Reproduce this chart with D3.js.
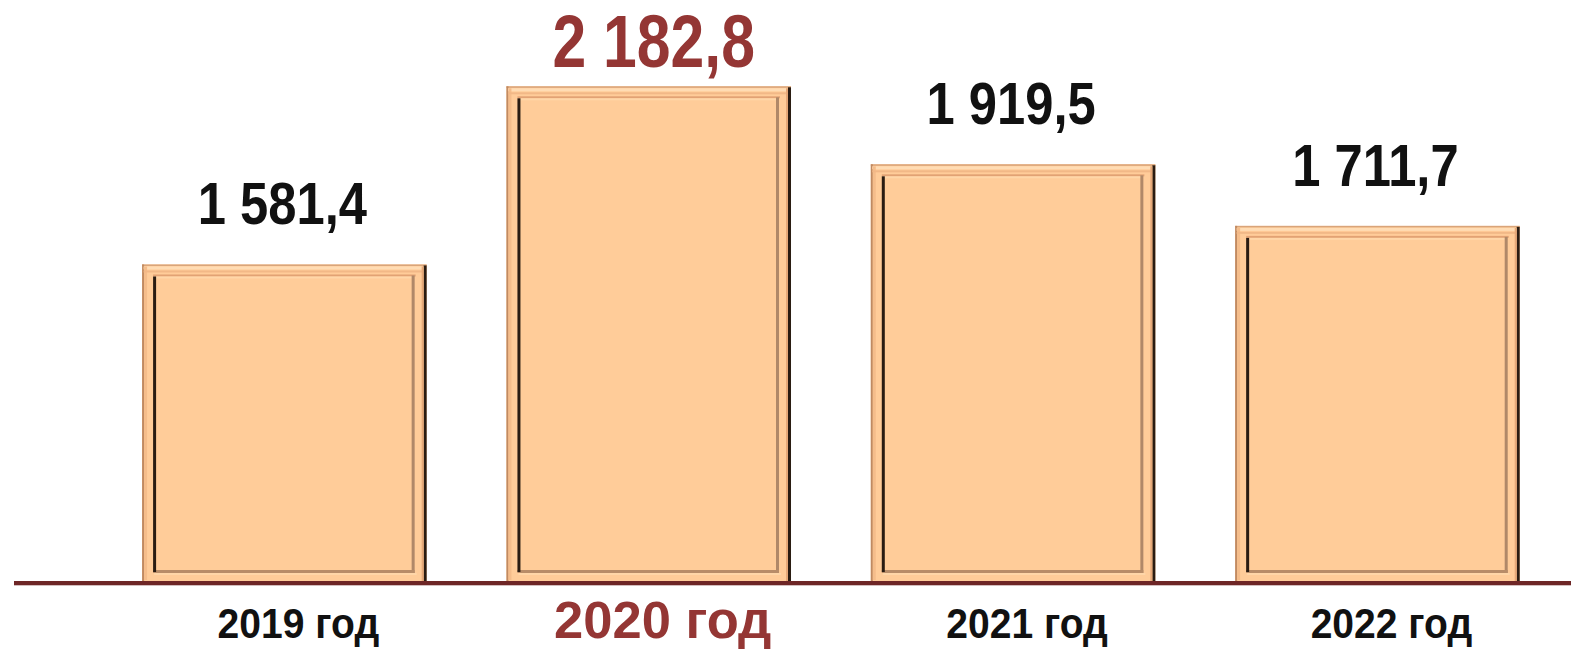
<!DOCTYPE html>
<html>
<head>
<meta charset="utf-8">
<script src="https://cdn.jsdelivr.net/npm/d3@7"></script>
<style>
  html, body { margin: 0; padding: 0; background: #ffffff; }
  svg { display: block; }
  text { font-family: "Liberation Sans", Arial, sans-serif; font-weight: bold; }
</style>
</head>
<body>
<svg id="chart" width="1571" height="651"></svg>
<script>
const categories = ["2019 год", "2020 год", "2021 год", "2022 год"];
const values = [1581.4, 2182.8, 1919.5, 1711.7];
const valueLabels = ["1 581,4", "2 182,8", "1 919,5", "1 711,7"];
const highlighted = "2020 год";

const W = 1571, H = 651;
const baseY = 581;
const svg = d3.select("#chart");

const x = d3.scaleBand().domain(categories).range([102.2, 1559.6]).paddingInner(0.219).paddingOuter(0.1095);
const y = d3.scaleLinear().domain([513, 2182.8]).range([baseY, baseY - 494.7]);

const RED = "#943634";
const DARK = "#2a1c12";

const g = svg.append("g");
const bars = g.selectAll("g.bar").data(categories).join("g").attr("class", "bar");

bars.each(function(c, i) {
  const sel = d3.select(this);
  const x0 = x(c), w = x.bandwidth();
  const y0 = y(values[i]), h = baseY - y0;
  const inset = 11;
  sel.append("rect").attr("x", x0).attr("y", y0).attr("width", w).attr("height", h).attr("fill", "#FFCC99");
  sel.append("rect").attr("x", x0).attr("y", y0).attr("width", w).attr("height", 1.5).attr("fill", "#d9a47a");
  sel.append("rect").attr("x", x0).attr("y", y0).attr("width", 2).attr("height", h).attr("fill", "#c08a62");
  sel.append("rect").attr("x", x0 + 1.5).attr("y", y0 + 2).attr("width", w - 4).attr("height", 3).attr("fill", "#ffdcb4");
  sel.append("rect").attr("x", x0 + 2).attr("y", y0 + 2).attr("width", 3).attr("height", h - 3).attr("fill", "#f5bd8b");
  sel.append("rect").attr("x", x0 + 1.5).attr("y", y0 + 6).attr("width", w - 6).attr("height", 2).attr("fill", "#f2b887");
  sel.append("rect").attr("x", x0 + w - 3).attr("y", y0 + 1).attr("width", 3).attr("height", h - 1).attr("fill", DARK);
  sel.append("rect").attr("x", x0 + w - 5).attr("y", y0 + 2).attr("width", 2).attr("height", h - 2).attr("fill", "#e6a878");
  const ix = x0 + inset, iy = y0 + inset, iw = w - 2 * inset, ih = h - 2 * inset + 3;
  sel.append("rect").attr("x", ix).attr("y", iy - 1).attr("width", iw).attr("height", 2).attr("fill", "#e2a274");
  sel.append("rect").attr("x", ix).attr("y", iy + 1).attr("width", iw - 3).attr("height", 2).attr("fill", "#ffd6a8");
  sel.append("rect").attr("x", ix + iw - 4).attr("y", iy).attr("width", 3).attr("height", ih).attr("fill", "#b08868");
  sel.append("rect").attr("x", ix).attr("y", iy + ih - 3).attr("width", iw - 1).attr("height", 3).attr("fill", "#b88c68");
  sel.append("rect").attr("x", ix + 1).attr("y", iy + ih).attr("width", iw).attr("height", 2).attr("fill", "#ffd6a8");
  sel.append("rect").attr("x", ix).attr("y", iy + 1).attr("width", 3).attr("height", ih - 2).attr("fill", DARK);
});

svg.append("rect").attr("x", 14).attr("y", baseY).attr("width", W - 14).attr("height", 4.3).attr("fill", "#6e2626");

// value labels (condensed horizontally)
svg.selectAll("text.val").data(categories).join("text").attr("class", "val")
  .attr("transform", (c, i) => {
    const cx = x(c) + x.bandwidth() / 2 + (c === highlighted ? 5 : -2);
    const cy = y(values[i]) - (c === highlighted ? 19 : 40);
    const s = c === highlighted ? 0.82 : 0.86;
    return `translate(${cx},${cy}) scale(${s},1)`;
  })
  .attr("text-anchor", "middle")
  .attr("font-size", c => c === highlighted ? 74 : 59)
  .attr("fill", c => c === highlighted ? RED : "#111111")
  .text((c, i) => valueLabels[i]);

// category labels
svg.selectAll("text.cat").data(categories).join("text").attr("class", "cat")
  .attr("transform", c => {
    const cx = x(c) + x.bandwidth() / 2 + 14;
    const s = c === highlighted ? 1.03 : 0.93;
    return `translate(${cx},${c === highlighted ? 638 : 638}) scale(${s},1)`;
  })
  .attr("text-anchor", "middle")
  .attr("font-size", c => c === highlighted ? 51 : 42)
  .attr("fill", c => c === highlighted ? RED : "#111111")
  .text(c => c);
</script>
</body>
</html>
